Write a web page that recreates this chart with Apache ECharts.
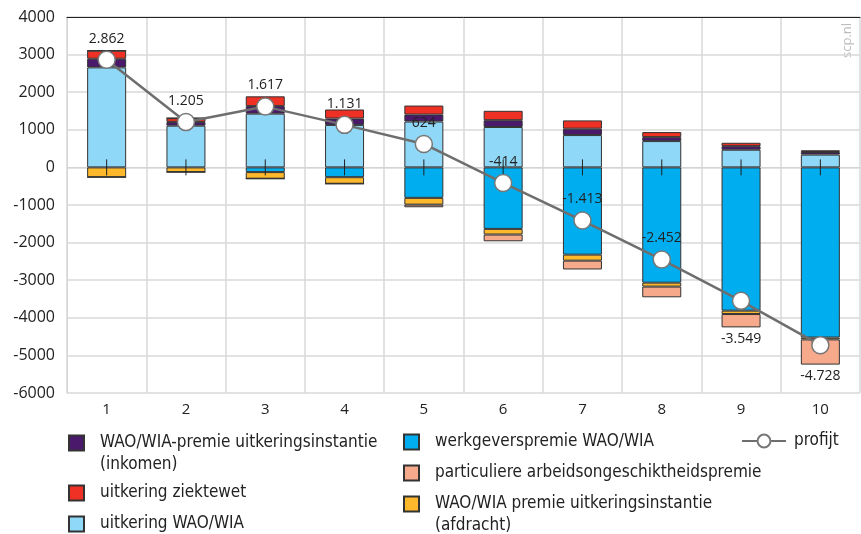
<!DOCTYPE html>
<html>
<head>
<meta charset="utf-8">
<script src="https://cdn.jsdelivr.net/npm/echarts@6/dist/echarts.min.js"></script>
<style>
  html, body { margin: 0; padding: 0; background: #fff; }
  #chart { width: 861px; height: 534px; }
</style>
</head>
<body>
<div id="chart"></div>
<script>
const categories = ["1", "2", "3", "4", "5", "6", "7", "8", "9", "10"];
const uitkeringWaoWia = [2660, 1110, 1430, 1130, 1220, 1075, 860, 700, 470, 340];
const premieInkomen = [230, 100, 200, 170, 185, 180, 170, 105, 95, 70];
const uitkeringZiektewet = [215, 100, 260, 240, 240, 250, 220, 135, 90, 45];
const werkgeverspremie = [0, 0, -125, -260, -810, -1635, -2320, -3065, -3810, -4525];
const premieAfdracht = [-260, -125, -175, -175, -180, -150, -160, -105, -90, -50];
const particulierePremie = [0, 0, 0, 0, -70, -180, -235, -285, -355, -670];
const profijt = [2862, 1205, 1617, 1131, 624, -414, -1413, -2452, -3549, -4728];

const font = '"Liberation Sans Narrow", "DejaVu Sans Condensed", sans-serif';
const border = "#333";

// dutch thousands separator
function nl(v) {
  const s = String(Math.abs(v)).replace(/\B(?=(\d{3})+(?!\d))/g, ".");
  return (v < 0 ? "-" : "") + s;
}

function bar(name, data, color) {
  return {
    name: name,
    type: "bar",
    stack: "total",
    data: data,
    barWidth: 39,
    itemStyle: { color: color, borderColor: border, borderWidth: 1 },
    z: 2,
  };
}

// one legend per entry so each can sit where the reference has it
function legendBox(name, left, top, extra) {
  return Object.assign({
    data: [{ name: name, icon: "rect" }],
    left: left,
    top: top,
    padding: 0,
    itemWidth: 15,
    itemHeight: 15,
    itemGap: 0,
    formatter: (n) => "{t|" + n + "}",
    textStyle: {
      fontFamily: font, fontSize: 17, color: "#222", lineHeight: 22,
      rich: { t: { padding: [0, 0, 0, 11], fontFamily: font, fontSize: 17, lineHeight: 22 } },
    },
  }, extra || {});
}

// empty first line pushes the two text lines down so line one sits beside the icon
const lines = {
  "WAO/WIA-premie uitkeringsinstantie": "(inkomen)",
  "WAO/WIA premie uitkeringsinstantie": "(afdracht)",
};
const twoLine = { formatter: (n) => "\n{t|" + n + "}\n{t|" + lines[n] + "}" };

const chart = echarts.init(document.getElementById("chart"));
chart.setOption({
  animation: false,
  grid: { left: 67, right: 1, top: 17, bottom: 141 },
  legend: [
    legendBox("WAO/WIA-premie uitkeringsinstantie", 68, 410, twoLine),
    legendBox("uitkering ziektewet", 68, 482),
    legendBox("uitkering WAO/WIA", 68, 513),
    legendBox("werkgeverspremie WAO/WIA", 403, 431),
    legendBox("particuliere arbeidsongeschiktheidspremie", 403, 462),
    legendBox("WAO/WIA premie uitkeringsinstantie", 403, 471, twoLine),
    Object.assign(legendBox("profijt", 741, 430), {
      data: ["profijt"], itemWidth: 44, itemHeight: 16,
      formatter: (n) => "{p|" + n + "}",
      textStyle: {
        fontFamily: font, fontSize: 17, color: "#222", lineHeight: 22,
        rich: { p: { padding: [0, 0, 0, 3], fontFamily: font, fontSize: 17, lineHeight: 22 } },
      },
    }),
  ],
  xAxis: [
    {
      type: "category",
      data: categories,
      axisLine: { lineStyle: { color: "#d4d4d4" } },
      axisTick: { show: false },
      axisLabel: { fontFamily: "Open Sans", fontSize: 15, color: "#222", margin: 9 },
      splitLine: { show: true, lineStyle: { color: "#d9d9d9", width: 1.5 } },
    },
    {
      type: "category",
      data: categories,
      position: "top",
      axisLine: { onZero: true, lineStyle: { color: "#222", width: 1 } },
      axisTick: { show: false },
      axisLabel: { show: false },
      splitLine: { show: false },
    },
  ],
  yAxis: {
    type: "value",
    min: -6000,
    max: 4000,
    interval: 1000,
    axisLine: { show: true, lineStyle: { color: "#d4d4d4" } },
    axisTick: { show: false },
    axisLabel: {
      fontFamily: "Open Sans", fontSize: 16, color: "#222", margin: 12,
      formatter: (v) => String(v),
    },
    splitLine: { lineStyle: { color: "#d9d9d9", width: 1.5 } },
  },
  graphic: [
    {
      type: "text",
      left: 841,
      top: 23,
      rotation: Math.PI / 2,
      style: { text: "scp.nl", fontFamily: "Open Sans", fontSize: 13, fill: "#bcbcbc" },
    },
  ],
  series: [
    bar("uitkering WAO/WIA", uitkeringWaoWia, "#8fd8f8"),
    bar("WAO/WIA-premie uitkeringsinstantie", premieInkomen, "#4b196c"),
    bar("uitkering ziektewet", uitkeringZiektewet, "#ee3124"),
    bar("werkgeverspremie WAO/WIA", werkgeverspremie, "#00aeef"),
    bar("WAO/WIA premie uitkeringsinstantie", premieAfdracht, "#fdb92b"),
    bar("particuliere arbeidsongeschiktheidspremie", particulierePremie, "#f7a98b"),
    {
      // tick marks crossing the zero line
      type: "custom",
      data: categories.map((c) => [c]),
      z: 3,
      silent: true,
      renderItem: function (params, api) {
        const p = api.coord([api.value(0), 0]);
        return {
          type: "line",
          shape: { x1: p[0], y1: p[1] - 8, x2: p[0], y2: p[1] + 8 },
          style: { stroke: "#222", lineWidth: 1 },
        };
      },
    },
    {
      name: "profijt",
      type: "line",
      data: profijt.map((v, i) => ({
        value: v,
        label: i == 8 ? { position: "bottom", distance: 22 }
          : i == 9 ? { position: "bottom", distance: 15 }
          : { position: "top" },
      })),
      z: 5,
      symbol: "circle",
      symbolSize: 17,
      lineStyle: { color: "#6e6e6e", width: 2.5 },
      itemStyle: { color: "#fff", borderColor: "#777", borderWidth: 1.5 },
      label: {
        show: true,
        distance: 5,
        fontFamily: "Open Sans",
        fontSize: 14,
        color: "#222",
        formatter: (p) => nl(p.value),
      },
    },
  ],
});
</script>
</body>
</html>
